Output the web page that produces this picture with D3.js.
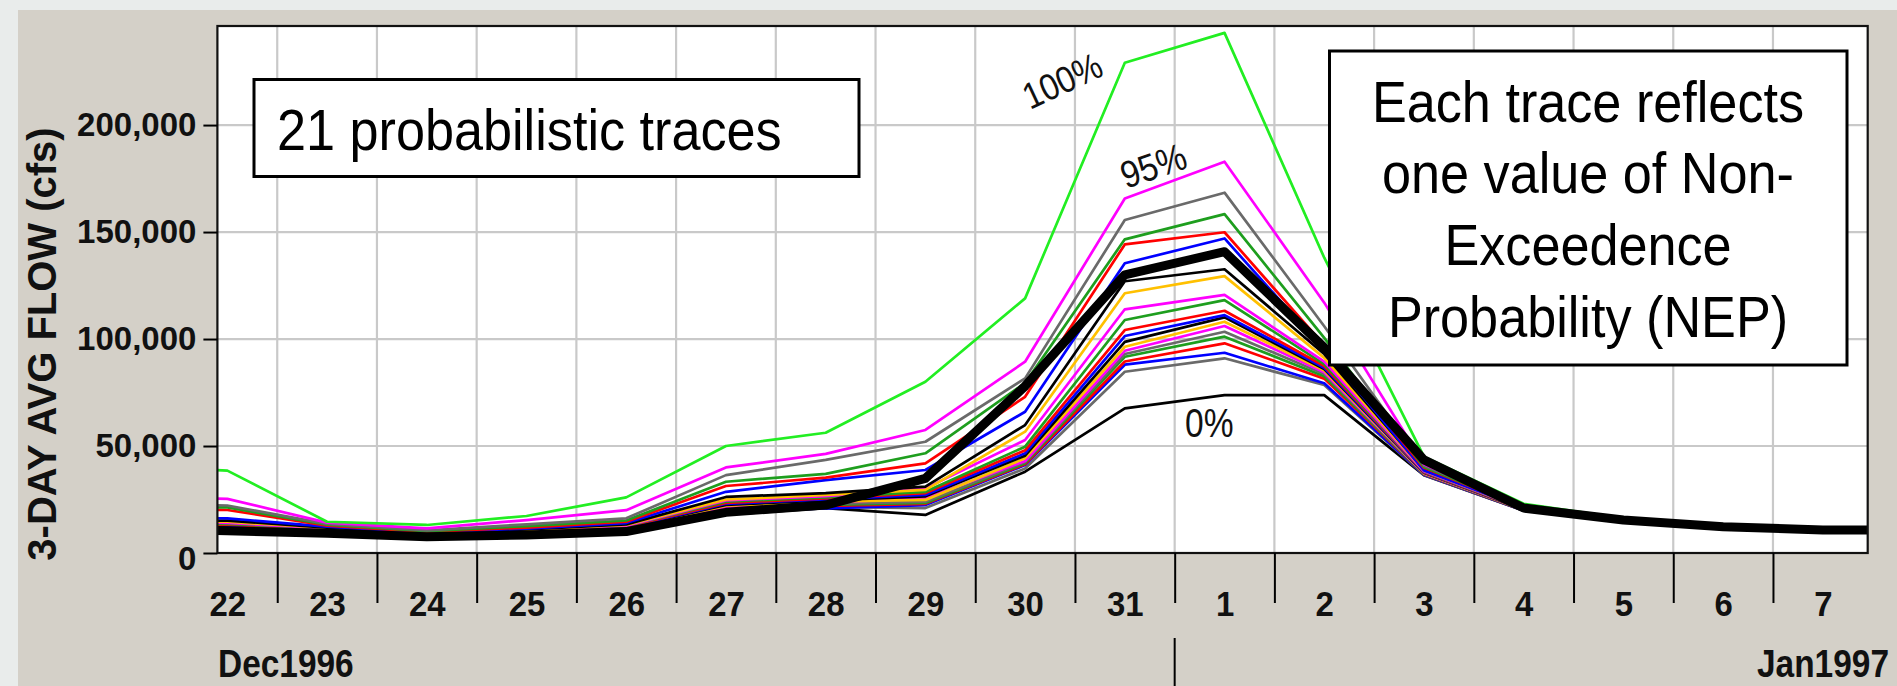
<!DOCTYPE html>
<html><head><meta charset="utf-8">
<script src="https://cdn.jsdelivr.net/npm/d3@7"></script>
<style>
body{margin:0;background:#e9eceb;overflow:hidden}
svg{display:block}
text{font-family:"Liberation Sans",Arial,sans-serif}
</style>
</head><body>
<svg id="chart" width="1897" height="686"></svg>
<script>
// ---------- data (values in thousands of cfs) ----------
// day of each sample: Dec 21 .. Jan 8 (the first and last are clipped at the plot edges)
const days = ["21","22","23","24","25","26","27","28","29","30","31","1","2","3","4","5","6","7","8"];
const tickDays = ["22","23","24","25","26","27","28","29","30","31","1","2","3","4","5","6","7"];
const yTickValues = [0, 50, 100, 150, 200];
const yTickLabels = ["0", "50,000", "100,000", "150,000", "200,000"];
const monthLabels = ["Dec1996", "Jan1997"];
const noteLeft = "21 probabilistic traces";
const noteLines = ["Each trace reflects", "one value of Non-", "Exceedence", "Probability (NEP)"];

const t100 = [40.5,38.5,14.6,13.1,17.3,26.0,50.0,56.2,80.0,119.0,229.1,243.1,138.0,45.0,23.0,16.2,13.1,11.6,11.2];
const t95  = [26.2,25.3,14.2,11.5,15.4,20.0,40.0,46.3,57.5,89.4,165.7,182.9,117.0,41.5,21.8,15.8,12.7,11.2,10.9];
const t90  = [22.8,22.2,13.6,10.6,13.4,16.2,36.4,43.5,52.0,81.6,155.6,168.4,106.0,40.8,21.6,15.6,12.6,11.1,10.8];
const t85  = [21.8,21.3,13.2,10.2,12.6,15.2,33.3,37.0,46.6,79.5,146.6,158.4,100.5,40.2,21.4,15.5,12.5,11.0,10.7];
const t80  = [20.6,20.1,12.8,9.9,11.9,14.6,31.3,35.2,41.9,73.0,144.2,149.9,97.0,39.8,21.2,15.4,12.4,10.9,10.6];
const t75  = [16.6,16.2,12.3,9.6,11.4,14.0,28.6,34.1,38.8,66.0,135.4,147.0,95.0,38.6,21.0,15.3,12.3,10.9,10.6];
const t70  = [15.6,15.1,11.9,9.4,11.0,13.4,26.2,28.0,31.0,59.8,127.0,132.6,93.0,39.0,21.1,15.3,12.3,10.8,10.5];
const t65  = [15.0,14.6,11.7,9.2,10.8,13.1,25.0,27.1,29.5,56.7,121.4,129.4,91.2,38.6,20.9,15.2,12.2,10.8,10.5];
const t60  = [14.5,14.1,11.5,9.1,10.6,12.8,24.6,26.6,30.2,52.8,113.9,120.6,89.4,38.2,20.8,15.2,12.2,10.7,10.4];
const t55  = [14.0,13.6,11.4,8.9,10.4,12.6,24.0,26.0,28.6,49.7,108.9,118.2,88.3,38.0,20.7,15.1,12.1,10.7,10.4];
const t50  = [13.6,13.2,11.2,8.8,10.2,12.3,23.4,25.5,28.0,48.0,104.2,113.2,87.4,37.8,20.6,15.1,12.1,10.7,10.4];
const t45  = [13.2,12.9,11.0,8.6,10.0,12.0,23.0,25.1,27.1,46.6,101.4,111.2,86.6,37.6,20.5,15.0,12.0,10.6,10.3];
const t40  = [12.9,12.6,10.8,8.4,9.8,11.8,22.5,24.6,26.5,45.5,98.7,110.1,86.0,37.5,20.4,15.0,12.0,10.6,10.3];
const t35  = [12.6,12.3,10.6,8.2,9.6,11.5,22.1,24.0,24.8,44.3,96.4,108.1,85.3,37.3,20.3,14.9,11.9,10.6,10.3];
const t30  = [12.4,12.0,10.4,8.0,9.4,11.3,21.6,23.5,25.6,43.0,94.5,106.1,84.5,37.2,20.3,14.9,11.9,10.5,10.2];
const t25  = [12.1,11.8,10.2,7.8,9.2,11.0,21.1,23.0,24.0,42.5,93.0,103.4,83.6,37.0,20.2,14.8,11.9,10.5,10.2];
const t20  = [11.8,11.5,10.0,7.6,9.0,10.8,20.6,22.5,23.4,42.0,91.7,101.1,82.6,36.9,20.1,14.8,11.8,10.5,10.2];
const t15  = [11.5,11.2,9.8,7.4,8.8,10.6,20.0,22.0,23.0,41.5,89.5,98.0,81.5,36.8,20.0,14.7,11.8,10.4,10.1];
const t10  = [11.3,11.0,9.6,7.2,8.6,10.4,19.5,20.9,22.4,41.1,88.0,93.6,79.3,36.6,19.9,14.7,11.7,10.4,10.1];
const t5   = [11.0,10.8,9.4,7.0,8.4,10.2,19.0,21.5,21.0,39.5,84.7,91.0,78.5,36.5,19.9,14.6,11.7,10.4,10.1];
const t0   = [10.5,10.0,9.0,6.8,8.0,9.5,18.0,21.0,17.8,38.0,67.6,73.8,73.8,36.4,19.8,14.6,11.7,10.3,10.0];
const thickTrace = [11.0,10.4,9.2,7.6,8.4,10.0,19.0,22.4,34.9,78.0,130.0,140.8,96.0,43.5,21.0,15.4,12.3,10.8,10.6];

const traceValues = [t100,t95,t90,t85,t80,t75,t70,t65,t60,t55,t50,t45,t40,t35,t30,t25,t20,t15,t10,t5,t0];
const traceColors = ["#22ee22","#ff00ff","#6a6a6a","#1e9e1e","#ff0000","#0000ff","#000000","#ffc000",
                     "#ff00ff","#1e9e1e","#ff0000","#0000ff","#000000","#ffc000","#ff00ff","#6a6a6a",
                     "#1e9e1e","#ff0000","#0000ff","#6a6a6a","#000000"];
const pctLabels = ["100%", "95%", "0%"];

// ---------- layout ----------
const svg = d3.select("#chart");
const L = 217.4, R = 1867.7, T = 26, B = 553;
const x = d3.scaleLinear().domain([-0.1, 16.45]).range([L, R]);   // 0 = Dec 22
const y = d3.scaleLinear().domain([0, 246.3]).range([B, T]);
const xi = i => x(i - 1);   // index into days -> position (days[1] = Dec 22)

// backgrounds
svg.append("rect").attr("width",1897).attr("height",686).attr("fill","#e9eceb");
svg.append("rect").attr("x",18).attr("y",10).attr("width",1879).attr("height",676).attr("fill","#d4d0c8");
svg.append("rect").attr("x",L).attr("y",T).attr("width",R-L).attr("height",B-T).attr("fill","#ffffff");

// grid
const boundaries = d3.range(0.5, 16, 1);
svg.append("g").selectAll("line").data(boundaries).join("line")
  .attr("x1",d=>x(d)).attr("x2",d=>x(d)).attr("y1",T).attr("y2",B)
  .attr("stroke","#c9c9c9").attr("stroke-width",2.2);
svg.append("g").selectAll("line").data(yTickValues.slice(1)).join("line")
  .attr("x1",L).attr("x2",R).attr("y1",d=>y(d)).attr("y2",d=>y(d))
  .attr("stroke","#c9c9c9").attr("stroke-width",2.2);

// clip
svg.append("clipPath").attr("id","plotclip").append("rect")
  .attr("x",L).attr("y",T).attr("width",R-L).attr("height",B-T);

const line = d3.line().x((d,i)=>xi(i)).y(d=>y(d));
const gLines = svg.append("g").attr("clip-path","url(#plotclip)");
const order = d3.range(traceValues.length).reverse();
gLines.selectAll("path.trace").data(order).join("path").attr("class","trace")
  .attr("d",k=>line(traceValues[k])).attr("fill","none")
  .attr("stroke",k=>traceColors[k]).attr("stroke-width",2.7).attr("stroke-linejoin","round");
gLines.append("path").attr("d",line(thickTrace)).attr("fill","none")
  .attr("stroke","#000").attr("stroke-width",9).attr("stroke-linejoin","round");

// annotation boxes
const box1 = svg.append("g");
box1.append("rect").attr("x",254).attr("y",79.5).attr("width",605).attr("height",97)
  .attr("fill","#fff").attr("stroke","#000").attr("stroke-width",3);
box1.append("text").attr("transform","translate(277,150) scale(0.9,1)")
  .attr("font-size",58).attr("fill","#000").text(noteLeft);

const box2 = svg.append("g");
box2.append("rect").attr("x",1329.5).attr("y",51).attr("width",517.5).attr("height",314)
  .attr("fill","#fff").attr("stroke","#000").attr("stroke-width",3);
const noteBase = [121.7, 193.3, 265, 336.7];
box2.selectAll("text").data(noteLines).join("text")
  .attr("transform",(d,i)=>`translate(1588,${noteBase[i]}) scale(0.9,1)`)
  .attr("text-anchor","middle").attr("font-size",58).attr("fill","#000").text(d=>d);

// percentage labels
const pctPos = [
  {t:"translate(1030,110) rotate(-25) scale(0.88,1)", fs:37},
  {t:"translate(1126,189) rotate(-19) scale(0.88,1)", fs:38},
  {t:"translate(1185,436.7) scale(0.84,1)", fs:40}
];
svg.append("g").selectAll("text").data(pctLabels).join("text")
  .attr("transform",(d,i)=>pctPos[i].t).attr("font-size",(d,i)=>pctPos[i].fs)
  .attr("fill","#111").text(d=>d);

// plot frame
svg.append("rect").attr("x",L).attr("y",T).attr("width",R-L).attr("height",B-T)
  .attr("fill","none").attr("stroke","#111").attr("stroke-width",2.2);

// y axis
const yAxis = d3.axisLeft(y).tickValues(yTickValues).tickFormat((d,i)=>yTickLabels[i])
  .tickSize(14).tickPadding(7);
const gy = svg.append("g").attr("transform",`translate(${L},0)`).call(yAxis);
gy.select(".domain").remove();
gy.selectAll(".tick line").attr("stroke","#000").attr("stroke-width",2);
gy.selectAll(".tick text").attr("font-size",33).attr("font-weight","bold").attr("fill","#111")
  .attr("font-family","'Liberation Sans',Arial,sans-serif")
  .attr("y",d=>d===0 ? 6 : 0);

// x axis: boundary ticks and day labels
const xTicks = d3.axisBottom(x).tickValues(boundaries).tickFormat("").tickSize(50).tickSizeOuter(0);
const gx = svg.append("g").attr("transform",`translate(0,${B})`).call(xTicks);
gx.select(".domain").remove();
gx.selectAll(".tick line").attr("stroke","#000").attr("stroke-width",2);
const xLabels = d3.axisBottom(x).tickValues(d3.range(0, tickDays.length))
  .tickFormat(i=>tickDays[i]).tickSize(0).tickPadding(38);
const gxl = svg.append("g").attr("transform",`translate(0,${B})`).call(xLabels);
gxl.select(".domain").remove();
gxl.selectAll(".tick text").attr("font-size",35).attr("font-weight","bold").attr("fill","#111")
  .attr("font-family","'Liberation Sans',Arial,sans-serif").attr("transform","scale(0.94,1)");

// month separator (between Dec 31 and Jan 1) + labels
svg.append("line").attr("x1",x(9.5)).attr("x2",x(9.5)).attr("y1",638).attr("y2",686)
  .attr("stroke","#000").attr("stroke-width",2);
svg.append("text").attr("transform","translate(218,677) scale(0.88,1)")
  .attr("font-size",38).attr("font-weight","bold").attr("fill","#111").text(monthLabels[0]);
svg.append("text").attr("transform","translate(1889,677) scale(0.88,1)").attr("text-anchor","end")
  .attr("font-size",38).attr("font-weight","bold").attr("fill","#111").text(monthLabels[1]);

// y title
svg.append("text").attr("transform","translate(56,344) rotate(-90)").attr("text-anchor","middle")
  .attr("font-size",40).attr("font-weight","bold").attr("fill","#111").text("3-DAY AVG FLOW (cfs)");
</script>
</body></html>
